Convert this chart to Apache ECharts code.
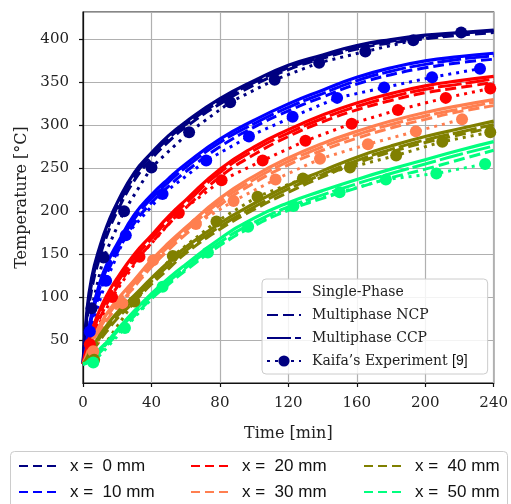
<!DOCTYPE html>
<html>
<head>
<meta charset="utf-8">
<script src="https://cdn.jsdelivr.net/npm/echarts@6/dist/echarts.min.js"></script>
<style>
html, body { margin: 0; padding: 0; background: #fff; }
#chart { width: 511px; height: 504px; }
</style>
</head>
<body>
<div id="chart"></div>
<script>
// Sampling times of the simulated curves [min]
const simTime = [0, 2, 5, 10, 15, 20, 30, 40, 50, 60, 80, 100, 120, 140, 160, 180, 200, 220, 240];

const positionLabels = ['x =  0 mm', 'x =  10 mm', 'x =  20 mm', 'x =  30 mm', 'x =  40 mm', 'x =  50 mm'];
const positionColors = ['#000080', '#0000ff', '#ff0000', '#ff7f50', '#808000', '#00ff7f'];
const modelLabels = ['Single-Phase', 'Multiphase NCP', 'Multiphase CCP', 'Kaifa\u2019s Experiment'];

// Single-phase model temperatures [°C]
const single0  = [22, 78, 122, 160, 188, 210, 245, 268, 288, 304, 331, 352, 370, 382, 393, 400, 405, 408, 411];
const single10 = [22, 45, 80, 118, 143, 162, 196, 219, 238, 255, 284, 306, 325, 341, 356, 367, 375, 380, 384];
const single20 = [22, 40, 60, 86, 106, 122, 150, 172, 194, 213, 249, 275, 295, 312, 326, 337, 346, 352, 357];
const single30 = [22, 32, 48, 68, 84, 97, 120, 143, 163, 181, 215, 241, 262, 279, 293, 305, 315, 323, 330];
const single40 = [22, 28, 40, 56, 70, 82, 102, 122, 141, 158, 186, 209, 230, 247, 263, 276, 287, 296, 305];
const single50 = [22, 24, 30, 40, 50, 62, 84, 104, 122, 138, 168, 192, 210, 224, 237, 249, 260, 271, 281];

// Multiphase model, NCP variant
const ncp0  = [22, 66, 108, 148, 177, 200, 236, 261, 281, 298, 325, 347, 365, 378, 389, 396, 401, 405, 408];
const ncp10 = [22, 38, 70, 106, 132, 152, 186, 210, 229, 246, 275, 298, 317, 333, 348, 359, 367, 373, 377];
const ncp20 = [22, 34, 52, 76, 96, 112, 140, 163, 185, 204, 240, 266, 287, 304, 318, 329, 338, 344, 350];
const ncp30 = [22, 28, 42, 60, 76, 89, 112, 135, 155, 173, 207, 233, 254, 271, 285, 297, 307, 316, 323];
const ncp40 = [22, 25, 35, 50, 63, 75, 95, 115, 133, 151, 179, 202, 222, 240, 256, 269, 280, 289, 298];
const ncp50 = [22, 23, 27, 36, 46, 57, 78, 98, 115, 131, 160, 183, 201, 215, 227, 239, 249, 260, 271];

// Multiphase model, CCP variant
const ccp0  = [22, 72, 115, 154, 183, 205, 241, 265, 285, 301, 328, 350, 367, 380, 391, 398, 403, 407, 410];
const ccp10 = [22, 41, 75, 112, 138, 157, 191, 215, 234, 251, 280, 302, 321, 337, 352, 363, 371, 377, 381];
const ccp20 = [22, 37, 56, 81, 101, 117, 145, 168, 190, 209, 245, 271, 291, 308, 322, 333, 342, 348, 354];
const ccp30 = [22, 30, 45, 64, 80, 93, 116, 139, 159, 177, 211, 237, 258, 275, 289, 301, 311, 319, 327];
const ccp40 = [22, 26, 37, 53, 66, 78, 98, 118, 137, 154, 182, 205, 226, 243, 259, 272, 283, 292, 301];
const ccp50 = [22, 23, 28, 38, 48, 60, 81, 101, 118, 134, 164, 187, 205, 219, 232, 244, 255, 266, 276];

// Measured temperatures (time [min], temperature [°C])
const expTime0  = [5, 12, 24, 40, 62, 86, 112, 138, 165, 193, 221];
const expTemp0  = [87, 146, 200, 251, 292, 327, 353, 373, 386, 399, 408];
const expTime10 = [4, 13.5, 25, 46.5, 72, 97, 122.5, 148.5, 176, 204, 232];
const expTemp10 = [60, 119, 172, 220, 259, 287, 310, 332, 344, 356, 366];
const expTime20 = [4, 17, 33, 56, 81, 105, 130, 157, 184, 212, 238];
const expTemp20 = [45, 100, 147, 198, 236, 259, 282, 302, 318, 332, 343];
const expTime30 = [6, 23, 41, 66, 88, 112.5, 138.5, 166.5, 194.5, 221.5];
const expTemp30 = [37, 93, 143, 185, 212, 237, 261, 278, 293, 307];
const expTime40 = [6.5, 30, 52.5, 78, 102, 128.5, 156, 183, 210, 238];
const expTemp40 = [27, 95, 148, 188, 217, 238, 251, 265, 281, 292];
const expTime50 = [6, 24.5, 46.5, 73, 96.5, 123, 150, 177, 206.5, 235];
const expTemp50 = [24, 64, 112, 152, 182, 206, 222, 237, 244, 255];

const xTicks = { min: 0, max: 240, interval: 40 };
const yTicks = { min: 0, max: 432, interval: 50 };

const singleSets = [single0, single10, single20, single30, single40, single50];
const ncpSets = [ncp0, ncp10, ncp20, ncp30, ncp40, ncp50];
const ccpSets = [ccp0, ccp10, ccp20, ccp30, ccp40, ccp50];
const expTimes = [expTime0, expTime10, expTime20, expTime30, expTime40, expTime50];
const expTemps = [expTemp0, expTemp10, expTemp20, expTemp30, expTemp40, expTemp50];

const zip = (xs, ys) => xs.map((x, i) => [x, ys[i]]);

const SOLID = 'solid';
const NCP_DASH = [11, 5];
const CCP_DASH = [24, 4];
const EXP_DOT = [3, 5];
const POS_DASH = [9, 5];

const series = [];
positionColors.forEach((c, i) => {
  const common = { type: 'line', showSymbol: false, smooth: 0.5, silent: true };
  series.push(Object.assign({}, common, {
    name: 'sp' + i, data: zip(simTime, singleSets[i]),
    lineStyle: { color: c, width: 3.2, type: SOLID }
  }));
  series.push(Object.assign({}, common, {
    name: 'ncp' + i, data: zip(simTime, ncpSets[i]),
    lineStyle: { color: c, width: 3, type: NCP_DASH }
  }));
  series.push(Object.assign({}, common, {
    name: 'ccp' + i, data: zip(simTime, ccpSets[i]),
    lineStyle: { color: c, width: 3, type: CCP_DASH }
  }));
  series.push({
    type: 'line', name: 'exp' + i, silent: true,
    data: zip(expTimes[i], expTemps[i]),
    symbol: 'circle', symbolSize: 12, showSymbol: true,
    itemStyle: { color: c, borderWidth: 0 },
    lineStyle: { color: c, width: 3, type: EXP_DOT }
  });
});

// Key entries for the model line styles
const styleTypes = [SOLID, NCP_DASH, CCP_DASH, EXP_DOT];
modelLabels.forEach((name, k) => {
  series.push({
    type: 'line', name: name, data: [], symbol: 'circle',
    itemStyle: { color: '#000080' },
    lineStyle: { color: '#000080', width: 3, type: styleTypes[k] }
  });
});

// Key entries for the measurement positions
positionLabels.forEach((name, i) => {
  series.push({
    type: 'line', name: name, data: [], symbol: 'circle',
    itemStyle: { color: positionColors[i] },
    lineStyle: { color: positionColors[i], width: 3, type: POS_DASH }
  });
});

const serif = 'DejaVu Serif';
const sans = 'Liberation Sans';
const lineOnly = { opacity: 0 };

const posLegend = (names, left) => ({
  orient: 'vertical', left: left, top: 456, height: 60,
  data: names.map(n => ({ name: n, itemStyle: lineOnly })),
  itemWidth: 38, itemHeight: 12, itemGap: 6,
  selectedMode: false, padding: 0,
  textStyle: { fontFamily: sans, fontSize: 17, lineHeight: 20, color: '#111', padding: [0, 0, 0, 8] }
});

const option = {
  animation: false,
  backgroundColor: '#fff',
  grid: { left: 83, right: 14, top: 12, bottom: 121, show: true, borderColor: '#111', borderWidth: 1.2, backgroundColor: 'transparent' },
  xAxis: {
    type: 'value', min: xTicks.min, max: xTicks.max, interval: xTicks.interval,
    name: 'Time [min]', nameLocation: 'middle', nameGap: 43,
    nameTextStyle: { fontFamily: serif, fontSize: 16, color: '#222' },
    axisLine: { show: true, lineStyle: { color: '#111', width: 1.2 } },
    axisTick: { show: true, length: 4, lineStyle: { color: '#111', width: 1.2 } },
    axisLabel: { fontFamily: serif, fontSize: 15, color: '#222', margin: 13 },
    splitLine: { show: true, lineStyle: { color: '#b0b0b0', width: 1.2 } }
  },
  yAxis: {
    type: 'value', min: yTicks.min, max: yTicks.max, interval: yTicks.interval,
    name: 'Temperature [\u00b0C]', nameLocation: 'middle', nameGap: 53,
    nameTextStyle: { fontFamily: serif, fontSize: 16, color: '#222' },
    axisLine: { show: true, lineStyle: { color: '#111', width: 1.2 } },
    axisTick: { show: true, length: 4, lineStyle: { color: '#111', width: 1.2 } },
    axisLabel: {
      fontFamily: serif, fontSize: 15, color: '#222', margin: 14,
      showMinLabel: false, showMaxLabel: false
    },
    splitLine: { show: true, lineStyle: { color: '#b0b0b0', width: 1.2 } }
  },
  legend: [
    {
      orient: 'vertical', left: 262, top: 279,
      data: modelLabels.map((n, k) => ({ name: n, itemStyle: k === 3 ? {} : lineOnly })),
      itemWidth: 34, itemHeight: 14, itemGap: 9,
      selectedMode: false,
      padding: [6, 20, 6, 4],
      backgroundColor: 'rgba(255,255,255,0.85)',
      borderColor: '#cccccc', borderWidth: 1, borderRadius: 4,
      formatter: n => n === modelLabels[3] ? n + ' {ref|[9]}' : n,
      textStyle: {
        fontFamily: serif, fontSize: 14, color: '#222', padding: [0, 0, 0, 6],
        rich: { ref: { fontFamily: sans, fontSize: 14, color: '#111' } }
      }
    },
    posLegend([positionLabels[0], positionLabels[1]], 18),
    posLegend([positionLabels[2], positionLabels[3]], 190),
    posLegend([positionLabels[4], positionLabels[5]], 363)
  ],
  graphic: [{
    type: 'rect', left: 10, top: 451, z: -1,
    shape: { width: 497, height: 70, r: 4 },
    style: { fill: '#fff', stroke: '#cccccc', lineWidth: 1 }
  }],
  series: series
};

const chart = echarts.init(document.getElementById('chart'), null, { renderer: 'canvas' });
chart.setOption(option);
</script>
</body>
</html>
